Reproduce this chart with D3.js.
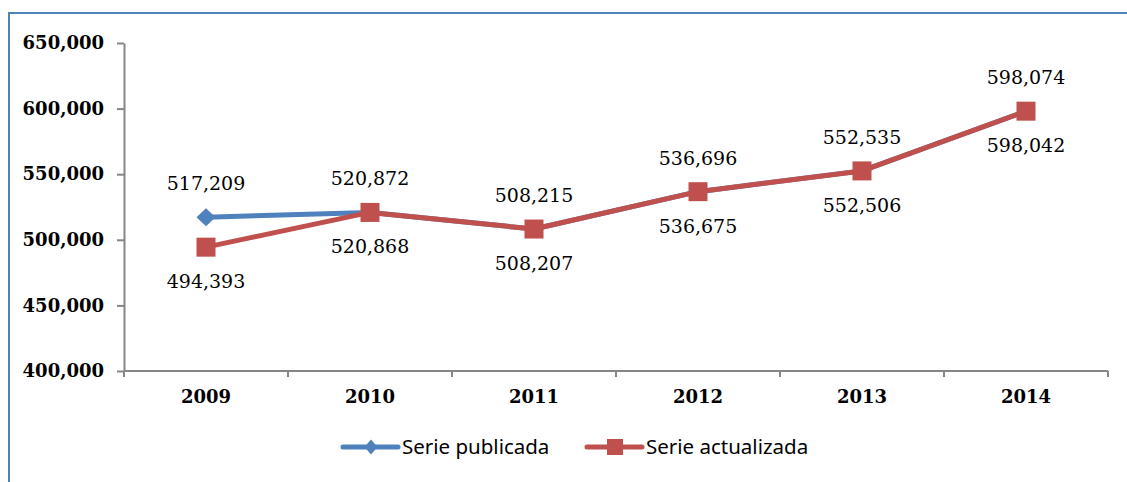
<!DOCTYPE html>
<html>
<head>
<meta charset="utf-8">
<script src="https://cdn.jsdelivr.net/npm/d3@7"></script>
<style>
  body { margin: 0; background: #fff; }
</style>
</head>
<body>
<svg id="chart" width="1127" height="482"></svg>
<script>
const years = [2009, 2010, 2011, 2012, 2013, 2014]
const publicada = [517209, 520872, 508215, 536696, 552535, 598074]
const actualizada = [494393, 520868, 508207, 536675, 552506, 598042]
const yTicks = [400000, 450000, 500000, 550000, 600000, 650000]
const seriesNames = ['Serie publicada', 'Serie actualizada']

const svg = d3.select('#chart')
const blue = '#4F81BD'
const red = '#C0504D'
const axisColor = '#868686'

// outer frame (only left and top edges are visible in the frame)
svg.append('path')
	.attr('d', 'M9,482 V13 H1127')
	.attr('fill', 'none')
	.attr('stroke', blue)
	.attr('stroke-width', 2)

const x0 = 124, x1 = 1108, yTop = 43, yBottom = 371

const xScale = d3.scaleBand()
	.domain(years)
	.range([x0, x1])
	.padding(0)

const yScale = d3.scaleLinear()
	.domain([400000, 650000])
	.range([yBottom, yTop])

const fmt = d3.format(',')
const cx = d => xScale(d) + xScale.bandwidth() / 2

// y axis
const yAxis = d3.axisLeft(yScale)
	.tickValues(yTicks)
	.tickFormat(fmt)
	.tickSize(7)
	.tickSizeOuter(0)
	.tickPadding(13)

const yAxisG = svg.append('g')
	.attr('transform', `translate(${x0},0)`)
	.call(yAxis)

yAxisG.selectAll('line, path').attr('stroke', axisColor).attr('stroke-width', 2)
yAxisG.selectAll('text')
	.attr('fill', '#000')
	.style('font-family', '"DejaVu Serif", serif')
	.style('font-weight', 'bold')
	.style('font-size', '18px')

// x axis: baseline plus ticks at category boundaries
const xAxisG = svg.append('g')
xAxisG.append('line')
	.attr('x1', x0).attr('x2', x1)
	.attr('y1', yBottom).attr('y2', yBottom)
	.attr('stroke', axisColor).attr('stroke-width', 2)

const boundaries = years.map(d => xScale(d)).concat([xScale(years[years.length - 1]) + xScale.bandwidth()])
xAxisG.selectAll('.bt')
	.data(boundaries)
	.enter().append('line')
	.attr('x1', d => d).attr('x2', d => d)
	.attr('y1', yBottom).attr('y2', yBottom + 6)
	.attr('stroke', axisColor).attr('stroke-width', 2)

xAxisG.selectAll('.lab')
	.data(years)
	.enter().append('text')
	.attr('x', d => cx(d))
	.attr('y', 403)
	.attr('text-anchor', 'middle')
	.text(d => d)
	.style('font-family', '"DejaVu Serif", serif')
	.style('font-weight', 'bold')
	.style('font-size', '18px')

const line = d3.line()
	.x((d, i) => cx(years[i]))
	.y(d => yScale(d))

// published series (blue, diamonds)
svg.append('path')
	.datum(publicada)
	.attr('d', line)
	.attr('fill', 'none')
	.attr('stroke', blue)
	.attr('stroke-width', 5)
	.attr('stroke-linejoin', 'round')

const diamond = (w, h) => `M0,${-h/2} L${w/2},0 L0,${h/2} L${-w/2},0 Z`

svg.append('g').selectAll('path')
	.data(publicada)
	.enter().append('path')
	.attr('d', diamond(19, 18))
	.attr('transform', (d, i) => `translate(${cx(years[i])},${yScale(d)})`)
	.attr('fill', blue)

// updated series (red, squares) drawn on top
svg.append('path')
	.datum(actualizada)
	.attr('d', line)
	.attr('fill', 'none')
	.attr('stroke', red)
	.attr('stroke-width', 5)
	.attr('stroke-linejoin', 'round')

const sq = 19
svg.append('g').selectAll('rect')
	.data(actualizada)
	.enter().append('rect')
	.attr('x', (d, i) => cx(years[i]) - sq / 2)
	.attr('y', d => yScale(d) - sq / 2)
	.attr('width', sq)
	.attr('height', sq)
	.attr('fill', red)

// data labels: published above, updated below
const labelStyle = sel => sel
	.attr('text-anchor', 'middle')
	.style('font-family', '"DejaVu Serif", serif')
	.style('font-size', '19px')
	.attr('fill', '#000')

svg.append('g').selectAll('text')
	.data(publicada)
	.enter().append('text')
	.attr('x', (d, i) => cx(years[i]))
	.attr('y', d => yScale(d) - 27)
	.text(d => fmt(d))
	.call(labelStyle)

svg.append('g').selectAll('text')
	.data(actualizada)
	.enter().append('text')
	.attr('x', (d, i) => cx(years[i]))
	.attr('y', d => yScale(d) + 41)
	.text(d => fmt(d))
	.call(labelStyle)

// legend
const legend = svg.append('g').attr('transform', 'translate(0,447)')
const legendItems = [
	{ name: seriesNames[0], color: blue, x: 343, shape: 'diamond' },
	{ name: seriesNames[1], color: red, x: 587, shape: 'square' }
]
legendItems.forEach(it => {
	legend.append('line')
		.attr('x1', it.x).attr('x2', it.x + 55)
		.attr('y1', 0).attr('y2', 0)
		.attr('stroke', it.color)
		.attr('stroke-width', 5)
		.attr('stroke-linecap', 'round')
	if (it.shape == 'diamond') {
		legend.append('path')
			.attr('d', diamond(13, 15))
			.attr('transform', `translate(${it.x + 28},0)`)
			.attr('fill', it.color)
	} else {
		legend.append('rect')
			.attr('x', it.x + 28 - 8).attr('y', -8)
			.attr('width', 16).attr('height', 16)
			.attr('fill', it.color)
	}
	legend.append('text')
		.attr('x', it.x + 59)
		.attr('y', 7)
		.text(it.name)
		.style('font-family', '"Noto Sans", sans-serif')
		.style('font-size', '20.5px')
		.attr('fill', '#000')
})
</script>
</body>
</html>
